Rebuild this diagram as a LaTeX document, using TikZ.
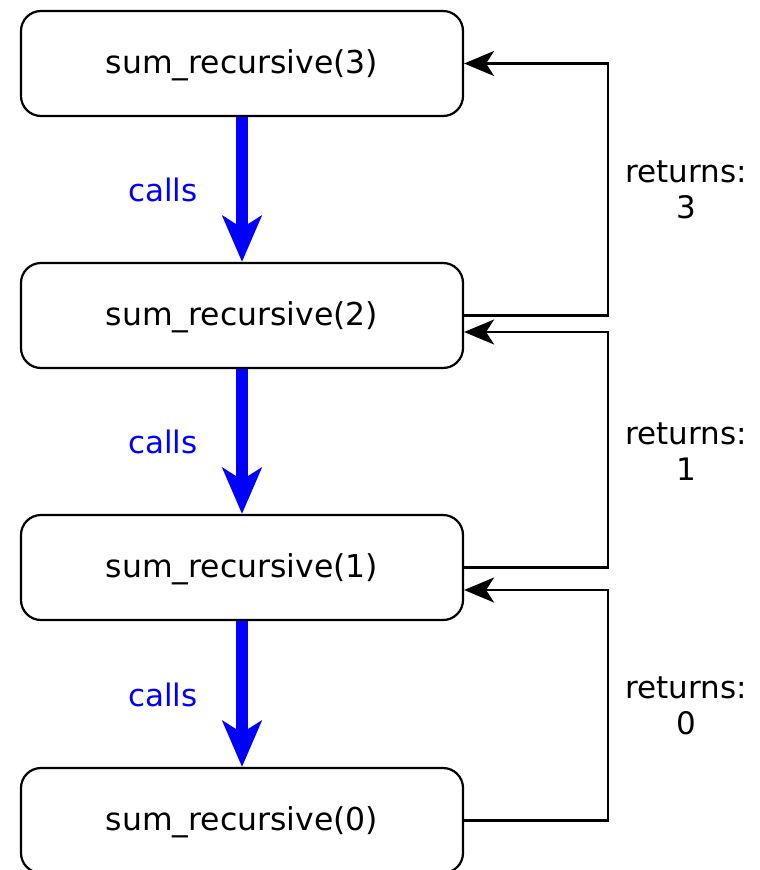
\documentclass[tikz,border=0pt]{standalone}
\usepackage{fontspec}
\setmainfont{DejaVu Sans}
\usetikzlibrary{arrows.meta}
\definecolor{callblue}{RGB}{0,0,255}
\begin{document}
\begin{tikzpicture}[x=1pt,y=-1pt,
  fn/.style={draw=black, line width=2.2pt, rounded corners=20pt, minimum width=442pt, minimum height=105pt, inner sep=0pt, font=\fontsize{31.5}{36}\selectfont, fill=white},
  fntext/.style={font=\fontsize{31.5}{36}\selectfont, inner sep=0pt},
  callarrow/.style={draw=callblue, line width=12pt, -{Stealth[length=46pt,width=39pt,inset=12pt]}},
  calllabel/.style={text=callblue, font=\fontsize{31}{36}\selectfont},
  retarrow/.style={draw=black, line width=2.2pt, -{Stealth[length=30pt,width=25pt,inset=8pt]}},
  retlabel/.style={align=center, font=\fontsize{31}{36}\selectfont}]
\path[use as bounding box] (0,0) rectangle (760,870);
\clip (0,0) rectangle (760,870);
\node[fn] (b3) at (242,63.5) {};
\node[fn] (b2) at (242,315.5) {};
\node[fn] (b1) at (242,567.5) {};
\node[fn] (b0) at (242,820.5) {};
\node[fntext] (t3) at (242,65.5) {sum\_recursive(3)};
\node[fntext] (t2) at (242,317.5) {sum\_recursive(2)};
\node[fntext] (t1) at (242,569.5) {sum\_recursive(1)};
\node[fntext] (t0) at (242,822.5) {sum\_recursive(0)};
\draw[callarrow] (b3.south) -- (b2.north);
\draw[callarrow] (b2.south) -- (b1.north);
\draw[callarrow] (b1.south) -- (b0.north);
\node[calllabel] (c1) at (163,190) {calls};
\node[calllabel] (c2) at (163,442) {calls};
\node[calllabel] (c3) at (163,695) {calls};
\draw[retarrow] (b2.east) -- ++(144,0) |- (b3.east);
\draw[retarrow] (b1.east) -- ++(144,0) |- ([yshift=-16.5pt]b2.east);
\draw[retarrow] (b0.east) -- ++(144,0) |- ([yshift=-22.5pt]b1.east);
\node[retlabel] (r3) at (686,190) {returns:\\3};
\node[retlabel] (r1) at (686,452) {returns:\\1};
\node[retlabel] (r0) at (686,706) {returns:\\0};
\end{tikzpicture}
\end{document}
